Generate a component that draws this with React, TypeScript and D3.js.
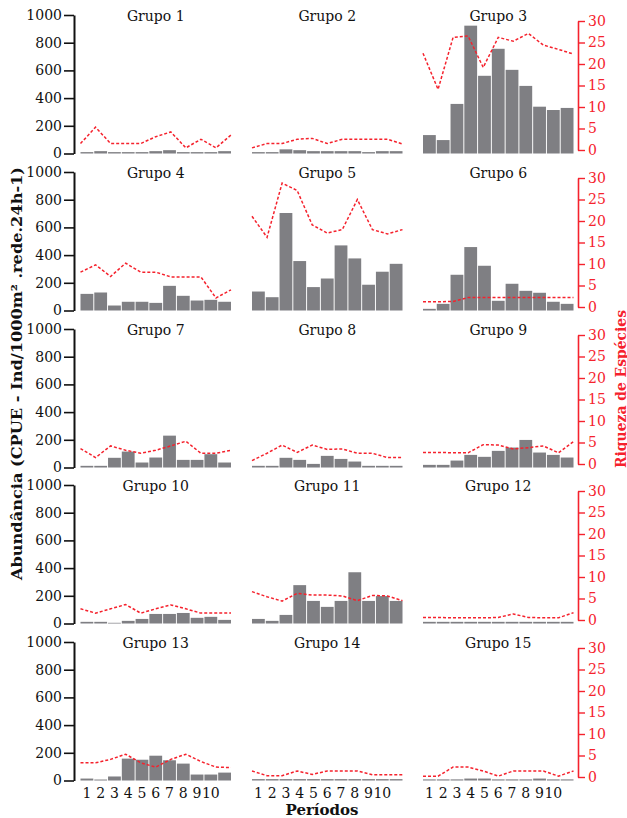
import React, { useEffect, useRef } from "react";
import * as d3 from "d3";

const periodos = [1, 2, 3, 4, 5, 6, 7, 8, 9, 10, 11];
const periodoLabels = ["1", "2", "3", "4", "5", "6", "7", "8", "9", "10"];
const grupos = [
  "Grupo 1", "Grupo 2", "Grupo 3", "Grupo 4", "Grupo 5",
  "Grupo 6", "Grupo 7", "Grupo 8", "Grupo 9", "Grupo 10",
  "Grupo 11", "Grupo 12", "Grupo 13", "Grupo 14", "Grupo 15",
];

// abundancia (CPUE) por periodo, um array por grupo
const abundancia = [
  [10, 17, 10, 10, 10, 17, 24, 10, 10, 10, 17],
  [10, 10, 30, 24, 17, 17, 17, 17, 10, 17, 17],
  [133, 97, 358, 923, 561, 756, 604, 488, 338, 314, 329],
  [120, 130, 36, 63, 63, 55, 178, 106, 72, 77, 63],
  [137, 96, 704, 357, 169, 231, 470, 376, 186, 280, 337],
  [12, 48, 258, 458, 323, 70, 193, 142, 128, 63, 48],
  [12, 12, 70, 115, 36, 72, 230, 55, 55, 96, 36],
  [12, 12, 70, 55, 26, 84, 62, 43, 12, 12, 12],
  [19, 19, 50, 91, 77, 120, 144, 199, 108, 91, 72],
  [12, 12, 5, 19, 33, 69, 69, 76, 41, 48, 26],
  [33, 19, 62, 277, 163, 120, 163, 370, 163, 198, 163],
  [12, 12, 12, 12, 12, 12, 12, 12, 12, 12, 12],
  [14, 7, 29, 158, 150, 179, 146, 122, 43, 43, 57],
  [10, 10, 10, 10, 10, 10, 10, 10, 10, 10, 10],
  [8, 8, 8, 14, 14, 8, 8, 8, 14, 8, 8],
];

// riqueza de especies por periodo
const riqueza = [
  [1.5, 5.3, 1.5, 1.5, 1.5, 3.1, 4.2, 0.5, 2.5, 0.5, 3.5],
  [0.5, 1.5, 1.5, 2.5, 2.7, 1.5, 2.5, 2.5, 2.5, 2.5, 1.4],
  [22.5, 14.1, 26.2, 26.5, 19.2, 26.2, 25.3, 27.1, 24.4, 23.4, 22.3],
  [8.1, 9.8, 7.1, 10.2, 8.1, 8.1, 7, 7, 7, 2.1, 4],
  [21.1, 16.2, 28.8, 27.1, 19.1, 17.2, 18, 25, 18, 17, 18],
  [1.2, 1.2, 1.3, 2.2, 2.2, 2.2, 2.2, 2.2, 2.2, 2.2, 2.2],
  [3.6, 1.5, 4.2, 3.2, 2.5, 3.2, 4.2, 5.3, 2.5, 2.5, 3.2],
  [0.8, 2.5, 4.4, 2.7, 4.4, 3.4, 3.5, 2.5, 2.5, 1.5, 1.5],
  [2.7, 2.7, 2.6, 2.6, 4.5, 4.4, 3.5, 3.8, 4.2, 2.6, 5.2],
  [2.6, 1.6, 2.6, 3.6, 1.6, 2.6, 3.5, 2.6, 1.6, 1.6, 1.6],
  [6.6, 5.4, 4.4, 6.2, 5.8, 5.8, 5.6, 4.5, 5.7, 5.6, 4.5],
  [0.6, 0.6, 0.5, 0.5, 0.5, 0.6, 1.4, 0.6, 0.5, 0.5, 1.7],
  [3.3, 3.3, 4.1, 5.3, 3.3, 2.3, 4.1, 5.3, 3.6, 2.3, 2.2],
  [1.4, 0.3, 0.3, 1.4, 0.6, 1.4, 1.4, 1.4, 0.5, 0.5, 0.5],
  [0.2, 0.2, 2.3, 2.3, 1.4, 0.2, 1.4, 1.4, 1.4, 0.2, 1.4],
];

const abundTicks = [0, 200, 400, 600, 800, 1000];
const riqTicks = [0, 5, 10, 15, 20, 25, 30];

const FONT = "'DejaVu Serif', serif";
const RED = "#f5222d";

export default function App() {
  const ref = useRef<SVGSVGElement>(null);

  useEffect(() => {
    const svg = d3.select(ref.current);
    svg.selectAll("*").remove();

    const colX = [80.5, 252, 423];
    const rowY = [15, 172, 329, 485, 642];
    const pw = 150.5;
    const ph = 138.5;

    grupos.forEach((name, i) => {
      const c = i % 3;
      const r = Math.floor(i / 3);
      const x0 = colX[c];
      const y0 = rowY[r];

      const x = d3.scaleBand<number>().domain(periodos).range([x0, x0 + pw]).paddingInner(0.07);
      const xl = d3.scalePoint<number>().domain(periodos).range([x0, x0 + pw]);
      const y = d3.scaleLinear().domain([0, 1000]).range([y0 + ph, y0]);
      const y2 = d3.scaleLinear().domain([0, 30]).range([y0 + ph - 3.5, y0 + 6]);

      const g = svg.append("g");

      g.selectAll("rect")
        .data(abundancia[i])
        .join("rect")
        .attr("x", (d, k) => x(periodos[k])!)
        .attr("width", x.bandwidth())
        .attr("y", (d) => y(d))
        .attr("height", (d) => y(0) - y(d))
        .attr("fill", "#7f7f83");

      const line = d3.line<number>()
        .x((d, k) => xl(periodos[k])!)
        .y((d) => y2(d));

      g.append("path")
        .datum(riqueza[i])
        .attr("d", line)
        .attr("fill", "none")
        .attr("stroke", RED)
        .attr("stroke-width", 1.5)
        .attr("stroke-dasharray", "3,2");

      g.append("text")
        .attr("x", x0 + pw / 2)
        .attr("y", y0 + 5.5)
        .attr("text-anchor", "middle")
        .attr("font-family", FONT)
        .attr("font-size", 14)
        .attr("fill", "#111")
        .text(name);

      if (c === 0) {
        const ax = g.append("g")
          .attr("transform", `translate(${x0 - 6.5},0)`)
          .call(d3.axisLeft(y).tickValues(abundTicks).tickSize(10).tickSizeOuter(0).tickPadding(2).tickFormat(d3.format("d")));
        ax.select(".domain").attr("stroke", "#111").attr("stroke-width", 2);
        ax.selectAll(".tick line").attr("stroke", "#111").attr("stroke-width", 1.6);
        ax.selectAll(".tick text")
          .attr("font-family", FONT)
          .attr("font-size", 14)
          .attr("fill", "#111");
      }

      if (c === 2) {
        const ax = g.append("g")
          .attr("transform", `translate(${x0 + pw + 4.5},0)`)
          .call(d3.axisRight(y2).tickValues(riqTicks).tickSize(7).tickSizeOuter(0).tickPadding(3));
        ax.select(".domain").attr("stroke", RED).attr("stroke-width", 1.6);
        ax.selectAll(".tick line").attr("stroke", RED).attr("stroke-width", 1.4);
        ax.selectAll(".tick text")
          .attr("font-family", FONT)
          .attr("font-size", 14)
          .attr("fill", RED);
      }

      if (r === 4) {
        g.selectAll("text.per")
          .data(periodoLabels)
          .join("text")
          .attr("class", "per")
          .attr("x", (d, k) => x(periodos[k])! + x.bandwidth() / 2)
          .attr("y", y0 + ph + 17)
          .attr("text-anchor", "middle")
          .attr("font-family", FONT)
          .attr("font-size", 14)
          .attr("fill", "#111")
          .text((d) => d);
      }
    });

    svg.append("text")
      .attr("x", 322)
      .attr("y", 815)
      .attr("text-anchor", "middle")
      .attr("font-family", FONT)
      .attr("font-weight", "bold")
      .attr("font-size", 15)
      .attr("fill", "#111")
      .text("Períodos");

    svg.append("text")
      .attr("transform", "translate(22,373.5) rotate(-90)")
      .attr("text-anchor", "middle")
      .attr("font-family", FONT)
      .attr("font-weight", "bold")
      .attr("font-size", 14)
      .attr("fill", "#111")
      .attr("textLength", 413)
      .attr("lengthAdjust", "spacingAndGlyphs")
      .text("Abundância (CPUE - Ind/1000m² .rede.24h-1)");

    svg.append("text")
      .attr("transform", "translate(625.5,389) rotate(-90)")
      .attr("text-anchor", "middle")
      .attr("font-family", FONT)
      .attr("font-weight", "bold")
      .attr("font-size", 14)
      .attr("fill", RED)
      .attr("textLength", 158)
      .attr("lengthAdjust", "spacingAndGlyphs")
      .text("Riqueza de Espécies");
  }, []);

  return (
    <svg
      ref={ref}
      width={627}
      height={818}
      style={{ position: "absolute", left: 0, top: 0, background: "#fff" }}
    />
  );
}
